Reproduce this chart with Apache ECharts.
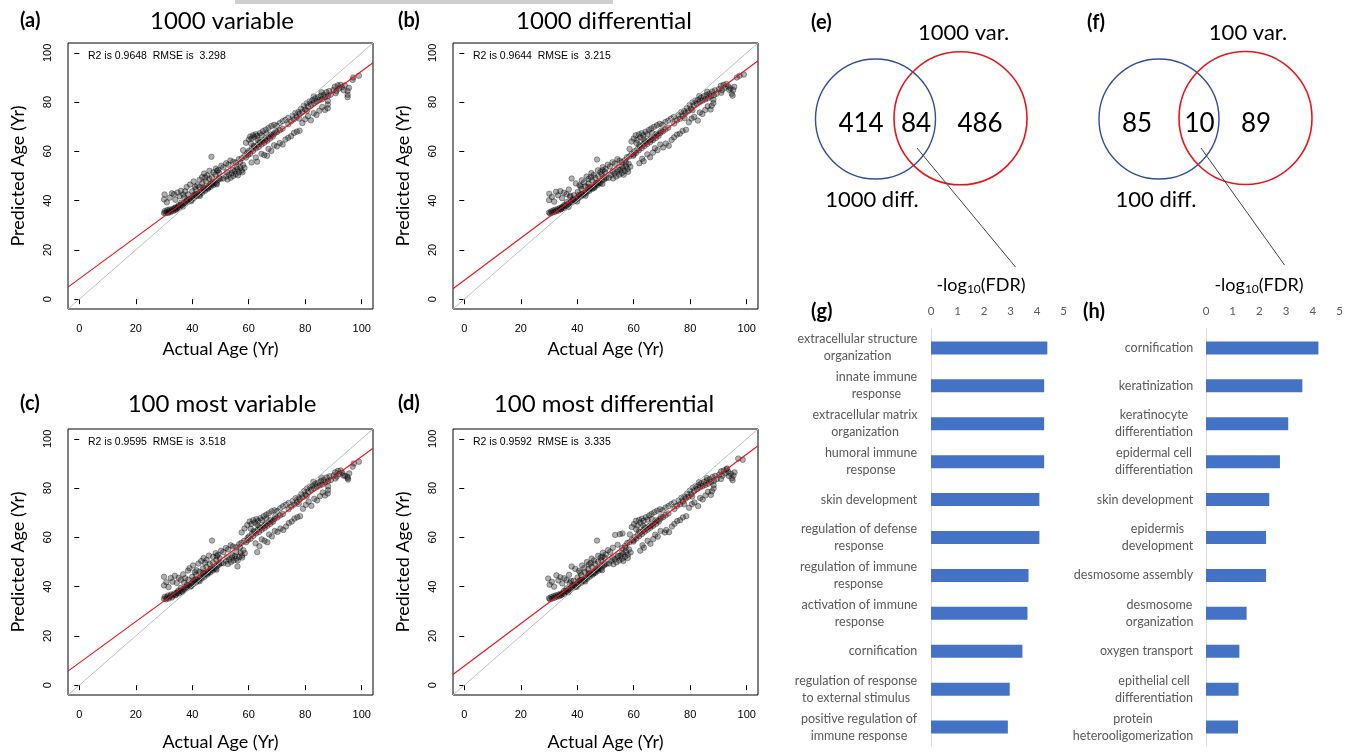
<!DOCTYPE html>
<html>
<head>
<meta charset="utf-8">
<script src="https://cdn.jsdelivr.net/npm/echarts@6/dist/echarts.min.js"></script>
<style>html,body{margin:0;padding:0;background:#fff}#c{width:1355px;height:754px}</style>
</head>
<body>
<div id="c"></div>
<script>
// ---------- DATA ----------
const panelTitles = ['1000 variable', '1000 differential', '100 most variable', '100 most differential'];
const panelTags = ['(a)', '(b)', '(c)', '(d)'];
const statTexts = ['R2 is 0.9648  RMSE is  3.298', 'R2 is 0.9644  RMSE is  3.215', 'R2 is 0.9595  RMSE is  3.518', 'R2 is 0.9592  RMSE is  3.335'];
const ageTicks = [0, 20, 40, 60, 80, 100];
const identityLine = [[-4, -4], [104, 104]];
const fitA = [[-4, 4.9], [104, 96.0]];
const fitB = [[-4, 4.2], [104, 96.8]];
const fitC = [[-4, 5.7], [104, 96.2]];
const fitD = [[-4, 4.3], [104, 97.2]];

const pointsA = [
[30,35],[30.3,35.8],[30.6,34.9],[31,35.4],[31.2,36.2],[31.5,35],[31.8,35.7],[32,36.4],[32.3,35.3],[32.6,36],[33,36.6],[33.3,35.8],[33.7,36.9],[34,37.2],[34.4,36.5],
[30,40.5],[30.2,42.5],[31,39.3],[32,41.2],[32.8,43],[33.5,42.6],[34,40.4],[34.8,43.3],[35.5,41.8],[36,44],[36.8,42.5],[37.5,43.8],[38,45.5],
[34,36.2],[34.6,37],[35,37.6],[35.5,37.2],[36,38.3],[36.5,38],[37,39],[37.5,38.7],[38,39.8],[38.5,39.5],[39,40.6],[39.5,40.2],[40,41.3],[40.5,41],[41,42],[41.5,41.8],[42,42.8],[42.5,42.4],[43,43.6],[43.5,43.2],[44,44.3],[44.5,44],[45,45.1],[45.5,44.8],[46,45.9],[46.5,45.6],[47,46.6],[47.5,46.3],[48,47.4],[48.5,47],[49,48.2],[50,48.8],
[38.5,42.5],[40,43.8],[41.2,44.6],[42.5,45.5],[43.6,47.2],[44.8,47.8],[46,48.9],[47,49.5],[48.2,50.6],[49.5,51.3],
[39.2,46.5],[40.5,47.8],[41.8,46.2],[42.6,48.5],[43.5,49.6],[44.2,51],[45.3,50.2],[46.1,52.1],[46.8,57.8],[47.5,51.5],[48.4,53],[49.2,52.4],[50.3,54.2],[51,53.5],[52,55.2],[52.8,54.6],[53.5,56.3],[54.5,55.8],
[51,49],[52,49.8],[52.5,48.6],[53,50.5],[53.6,49.3],[54,51.2],[54.5,50],[55,52],[55.4,50.8],[56,52.8],[56.5,51.5],[57,53.4],[57.5,52.2],[58,54.5],[58.5,53.3],
[55.5,55.5],[56.5,56.8],[57.5,57.2],[58.5,58.2],[59,57.5],[59.5,59.4],[60,60.2],[60.5,59],[61,61],[61.5,60.2],[62,61.8],[62.5,61.2],[63,62.6],[63.5,61.8],[64,63.5],[64.5,62.8],[65,64.2],[65.5,63.5],[66,65],[66.5,64.3],[67,65.8],[67.5,65.2],[68,66.5],[68.5,66],[69,67.2],[70,67.8],[71,68.6],[72,69.2],
[58,60.5],[59,63.5],[60,64.8],[60.5,66],[61,65.2],[61.5,66.5],[62,65.8],[62.5,67],[63,66.3],[64,67.4],[64.5,66.6],[65,68.2],[66,68.8],[67,69.5],[68,70.3],[69,70.8],[70,70.4],[71,71.5],[72,72.3],[73,72.8],[74,73.6],
[61,55.5],[62.5,57.5],[63,55.8],[64.5,59],[65.5,58.5],[66.5,58.2],[67,61],[68,60.2],[69,62.5],[70,62],[71,63.4],[72,62.8],[73,64.8],[74,65.5],[75,66.2],[76,67.5],[77,68],[78,68.4],
[74,71],[75,72.2],[75.5,74.5],[76,73],[76.5,75.6],[77,74],[77.5,76],[78,75.2],[78.5,77.3],[79,76],[79.5,78.5],[80,77],[80.5,79.5],[81,78.2],[81.5,80.3],[82,79],[82.5,80.8],[83,79.6],[83.5,81.5],[84,80.2],[84.5,82],[85,80.8],[85.5,82.6],[86,81.2],[86.5,83],[87,82],[87.5,84],[88,82.5],[88.5,84.5],[89,83],
[79,71.5],[80,73],[81,74.3],[82,72.6],[83,75.5],[84,74.8],[85,76.5],[86,78],[87,76.8],[88,77.5],[88,79],[88,80.5],
[90,85],[90.5,86.2],[91,84.5],[91.5,86.8],[92,85.5],[92.5,87],[93,86],[94,86.8],[95,83],[95,82],[95,84.5],[95.5,85.8],[96.8,89],[97,90],[99,90.7],
[35.2,38.1],[36.7,37.6],[38.2,40.4],[39.7,39.8],[41.2,42.5],[42.7,41.9],[44.2,44.9],[45.7,45.3],[47.2,47.2],[48.7,46.6],[36.1,39.2],[40.6,42.3],[43.8,45.4],[46.6,46.9],[49.5,49.1],[57,55.7],[59.8,58.6],[61.8,62.3],[63.8,63.9],[65.8,64.6],[67.8,66.9],[69.5,68.3],[60.8,63.2],[63.2,64.7],[66.3,67.3],[56.2,50.3],[54.3,52.4],[57.8,51.5],[52.3,51.6],[55.7,53.7],[37.2,41.4],[41,45.6],[44.6,49.4],[48.8,52.1],[83,82.3],[85.8,84],[80.6,76.5],[77.8,73.3],[90.8,83.6],[93.6,84.8]
];
const pointsB = [
[30,35.2],[30.4,34.8],[30.8,35.6],[31.1,35.1],[31.5,36],[31.9,35.4],[32.2,36.3],[32.6,35.7],[33,36.5],[33.4,36],[33.8,37],[34.2,36.6],[34.6,37.4],
[30,40.2],[30.1,42.8],[31,41.5],[31.8,39.6],[32.5,43.6],[33.2,42.2],[34,43.9],[34.6,41],[35.3,43.2],[36.2,42.6],[37,44.5],[38,49],[37.6,42],
[34.2,36.5],[34.8,37.3],[35.2,37],[35.8,38],[36.2,37.8],[36.8,38.8],[37.2,38.5],[37.8,39.5],[38.2,39.3],[38.8,40.3],[39.2,40],[39.8,41.1],[40.2,40.8],[40.8,41.8],[41.2,41.6],[41.8,42.6],[42.2,42.3],[42.8,43.4],[43.2,43.1],[43.8,44.2],[44.2,43.9],[44.8,45],[45.2,44.7],[45.8,45.8],[46.2,45.5],[46.8,46.6],[47.2,46.3],[47.8,47.4],[48.2,47.1],[48.8,48.2],[49.5,48.6],[50.2,49.2],
[38.8,42.2],[40.2,43.5],[41.5,44.8],[42.8,45.8],[44,47],[45.2,48.2],[46.4,49.2],[47.5,50],[48.6,50.8],[49.8,51.6],
[39.5,47],[40.8,46.2],[41.6,48.3],[42.4,47.4],[43.3,49.8],[44,48.8],[45,51.2],[45.8,50.4],[47,56.7],[47.3,52.3],[48.2,51.6],[49,53.6],[50,52.8],[50.8,54.6],[51.6,53.9],[52.5,55.6],[53.3,55],[54.2,56.8],[55,56.2],
[51.2,49.3],[52,50.4],[52.7,49],[53.2,51],[53.8,49.8],[54.2,51.8],[54.8,50.5],[55.2,52.5],[55.8,51.2],[56.2,53.2],[56.8,52],[57.2,54],[57.8,52.8],[58.2,55],[58.8,53.8],
[55.8,55.6],[56.8,56.4],[57.6,57.6],[58.4,57.9],[59.2,58.9],[59.8,58.2],[60.3,60],[60.8,59.4],[61.3,61],[61.8,60.4],[62.3,62],[62.8,61.3],[63.3,62.8],[63.8,62.2],[64.3,63.6],[64.8,63],[65.3,64.5],[65.8,63.8],[66.3,65.2],[66.8,64.6],[67.3,66.1],[67.8,65.4],[68.3,66.8],[68.8,66.3],[69.4,67.5],[70.3,68.1],[71.2,68.9],[72.2,69.6],
[58.5,61],[59.2,64],[60,65.2],[60.7,66.5],[61.2,64.6],[61.8,66.9],[62.3,65.7],[62.8,67.4],[63.4,66.5],[64.2,68],[64.8,67],[65.4,68.7],[66.2,69.3],[67.2,70],[68.2,70.6],[69.2,71.2],[70.2,70.8],[71.2,71.9],[72.2,72.5],[73.2,73.3],[74.2,74],
[62,55.2],[63,57],[63.5,56],[64.8,58.8],[65.8,57.6],[66.8,59.5],[67.5,61.3],[68.4,60.5],[69.4,62.8],[70.4,61.6],[71.4,63.2],[72.4,62.3],[73.4,64.6],[74.3,65.7],[75.3,66.8],[76.3,67.2],[77.3,68.3],[78.5,68.8],
[74.3,71.3],[75.2,72.6],[75.8,74.8],[76.3,73.2],[76.8,75.9],[77.3,74.4],[77.8,76.4],[78.3,75.5],[78.8,77.6],[79.3,76.3],[79.8,78.8],[80.3,77.3],[80.8,79.9],[81.3,78.6],[81.8,80.6],[82.3,79.3],[82.8,81.1],[83.3,80],[83.8,81.8],[84.3,80.6],[84.8,82.4],[85.3,81.1],[85.8,82.9],[86.3,81.6],[86.8,83.4],[87.3,82.3],[87.8,84.3],[88.3,82.8],[88.8,84.8],[89.3,83.4],
[79.5,71.8],[80.5,73.3],[81.4,74],[82.7,72.5],[83.4,75.8],[84.3,75.2],[85.3,76.8],[86.2,78.3],[87.2,77],[87.6,78.5],[88.2,79.6],[88.2,81],
[90.2,85.3],[90.8,86.6],[91.3,84.8],[91.8,87],[92.3,85.8],[92.8,87.4],[93.4,86.4],[94.3,85.6],[94.7,83.4],[95,82.6],[95.2,84.9],[95.6,86.2],[96.5,90],[97.5,90.7],[99,91.2],
[35.4,38.2],[36.9,37.4],[38.4,40.5],[39.9,39.6],[41.4,42.6],[42.9,42],[44.4,45],[45.9,45.1],[47.4,47.4],[48.9,46.8],[36.3,39.4],[40.7,42.4],[43.9,45.6],[46.7,47.1],[49.6,49.4],[57.2,55.5],[60,58.7],[62,62.5],[64,64.1],[66,64.8],[68,67.1],[69.7,68.4],[61,63.4],[63.4,64.9],[66.5,67.5],[56.4,50.5],[54.5,52.6],[58,51.7],[52.5,51.8],[55.9,53.9],[37.4,41.6],[41.2,45.8],[44.8,49.6],[49,52.3],[83.2,82.5],[86,84.2],[80.8,76.7],[78,73.5],[91,83.8],[93.8,85]
];
const pointsC = [
[30,35],[30.3,35.9],[30.7,34.8],[31,35.6],[31.4,36.4],[31.7,35.2],[32.1,36],[32.5,36.8],[32.8,35.6],[33.2,36.4],[33.6,37.2],[34,36.5],[34.5,37.6],
[30,40.5],[30,44],[30.8,41.8],[31.6,39.8],[32.4,43.5],[33,42],[33.8,44.4],[34.5,41.5],[35.2,43.6],[36,42.8],[36.8,45],[37.5,43.4],[38.5,46.5],
[34.2,36.8],[34.8,37.5],[35.3,37.2],[35.8,38.3],[36.3,38],[36.8,39],[37.3,38.7],[37.8,39.8],[38.3,39.5],[38.8,40.6],[39.3,40.2],[39.8,41.4],[40.3,41],[40.8,42.1],[41.3,41.7],[41.8,42.8],[42.3,42.5],[42.8,43.6],[43.3,43.3],[43.8,44.4],[44.3,44],[44.8,45.2],[45.3,44.9],[45.8,46],[46.3,45.7],[46.8,46.8],[47.3,46.5],[47.8,47.6],[48.3,47.3],[48.8,48.4],[49.5,48.9],[50.3,49.6],
[38.6,42.8],[40,44],[41.3,44.9],[42.6,46],[43.8,47.4],[45,48],[46.2,49.1],[47.3,49.8],[48.5,50.9],[49.7,51.6],
[39,47.5],[40.3,48.6],[41.5,46.6],[42.2,49.4],[43.2,50.4],[44,51.6],[45.1,50.8],[45.9,52.6],[47,58.7],[47.4,52.1],[48.3,53.6],[49.1,52.9],[50.2,54.6],[51,54],[51.9,55.7],[52.7,55.1],[53.6,56.8],[54.4,56.3],
[51,49.5],[52,50.5],[52.6,49.2],[53.1,51],[53.7,50],[54.1,51.8],[54.6,50.6],[55.1,52.4],[55.6,51.3],[56,48.2],[56.6,52],[57.1,53.8],[57.6,52.6],[58.1,54.8],[58.6,53.6],
[55.6,56],[56.6,57.2],[57.4,57.8],[58.4,58.6],[59.1,58],[59.6,59.8],[60.1,60.4],[60.6,59.4],[61.1,61.4],[61.6,60.6],[62.1,62.2],[62.6,61.6],[63.1,63],[63.6,62.2],[64.1,63.8],[64.6,63.1],[65.1,64.5],[65.6,63.8],[66.1,65.3],[66.6,64.7],[67.1,66.1],[67.6,65.5],[68.1,66.8],[68.6,66.3],[69.1,67.5],[70.1,68.1],[71.1,68.9],[72.1,69.5],
[57.5,62],[58.5,63.6],[59.5,65],[60.3,66.4],[61,65.5],[61.6,67],[62.2,66],[62.7,67.4],[63.3,66.6],[64.1,67.8],[64.7,67],[65.3,68.6],[66.2,69.2],[67.1,69.8],[68.1,70.6],[69.1,71],[70.1,70.7],[71.1,71.8],[72.1,72.6],[73.1,73.2],[74.1,74],
[63,54],[62.4,57.6],[63.8,56.4],[64.6,59.2],[65.6,58.6],[66.6,58],[67.2,61.2],[68.2,60.4],[69.2,62.6],[70.2,62.2],[71.2,63.6],[72.2,63],[73.2,64.4],[74.2,65.8],[75.2,66.4],[76.2,67.6],[77.2,68.2],[78.2,68.6],
[74.1,71.4],[75.1,72.5],[75.6,74.8],[76.1,73.3],[76.6,75.9],[77.1,74.3],[77.6,76.3],[78.1,75.5],[78.6,77.6],[79.1,76.3],[79.6,78.8],[80.1,77.3],[80.6,79.8],[81.1,78.5],[81.6,80.6],[82.1,79.3],[82.6,81.1],[83.1,79.9],[83.6,81.8],[84.1,80.5],[84.6,82.3],[85.1,81.1],[85.6,82.9],[86.1,81.5],[86.6,83.3],[87.1,82.3],[87.6,84.3],[88.1,82.8],[88.6,84.8],[89.1,83.3],
[79.2,71.6],[80.2,73.2],[81.2,74.5],[82.2,72.8],[83.2,75.7],[84.2,75],[85.2,76.7],[86.2,78.2],[87,77],[88,77.8],[88.1,79.2],[88.1,80.7],
[90.1,85.2],[90.6,86.4],[91.1,84.7],[91.6,87],[92.1,85.7],[92.6,87.2],[93.1,86.2],[94.1,85],[95,84],[95,84.6],[95.2,83.5],[95.6,86],[96.8,88.7],[97.2,90],[99,90.7],
[35.1,38.4],[36.6,37.9],[38.1,40.7],[39.6,40.1],[41.1,42.8],[42.6,42.2],[44.1,45.2],[45.6,45.6],[47.1,47.5],[48.6,46.9],[36,39.5],[40.5,42.6],[43.7,45.7],[46.5,47.2],[49.4,49.4],[56.9,56],[59.7,58.9],[61.7,62.6],[63.7,64.2],[65.7,64.9],[67.7,67.2],[69.4,68.6],[60.7,63.5],[63.1,65],[66.2,67.6],[56.1,50.6],[54.2,52.7],[57.7,51.8],[52.2,51.9],[55.6,54],[37.1,41.7],[40.9,45.9],[44.5,49.7],[48.7,52.4],[82.9,82.6],[85.7,84.3],[80.5,76.8],[77.7,73.6],[90.7,83.9],[93.5,85.1]
];
const pointsD = [
[30,35.3],[30.4,34.9],[30.8,35.8],[31.2,35.2],[31.6,36.1],[32,35.5],[32.4,36.4],[32.8,35.9],[33.2,36.7],[33.6,36.1],[34,37.1],[34.4,36.7],
[29.7,43.3],[30.2,40.8],[31,42],[31.8,40],[32.6,44.6],[33.3,42.5],[34,43.8],[34.7,41.3],[35.4,43.4],[36.2,42.7],[37.1,44.8],[38,48.2],[37.8,42.3],
[34.3,36.6],[34.9,37.4],[35.4,37.1],[35.9,38.1],[36.4,37.9],[36.9,38.9],[37.4,38.6],[37.9,39.7],[38.4,39.4],[38.9,40.5],[39.4,40.1],[39.9,41.3],[40.4,40.9],[40.9,42],[41.4,41.6],[41.9,42.7],[42.4,42.4],[42.9,43.5],[43.4,43.2],[43.9,44.3],[44.4,44],[44.9,45.1],[45.4,44.8],[45.9,45.9],[46.4,45.6],[46.9,46.7],[47.4,46.4],[47.9,47.5],[48.4,47.2],[48.9,48.3],[49.6,48.7],[50.4,49.3],
[38.7,42.4],[40.1,43.7],[41.4,44.7],[42.7,45.9],[43.9,47.1],[45.1,48.1],[46.3,49.3],[47.4,50.1],[48.5,50.7],[49.7,51.7],
[39.3,47.2],[40.6,46.4],[41.7,48.6],[42.5,47.6],[43.4,50],[44.1,49],[45.1,51.4],[45.9,50.6],[47,58.7],[47.4,52.5],[48.3,51.8],[49.1,53.8],[50.1,53],[50.9,54.8],[51.7,54.1],[52.6,55.8],[53.4,61],[54.3,57],[55.1,61.3],[56,61.6],
[51.3,49.4],[52.1,50.5],[52.8,49.1],[53.3,51.1],[53.9,49.9],[54.3,51.9],[54.9,50.6],[55.3,52.6],[55.9,51.3],[56.3,53.3],[56.9,52.1],[57.3,54.1],[57.9,52.9],[58.3,55.1],[58.9,53.9],
[55.9,55.7],[56.9,56.5],[57.7,57.7],[58.5,58],[59.3,59],[59.9,58.3],[60.4,60.1],[60.9,59.5],[61.4,61.1],[61.9,60.5],[62.4,62.1],[62.9,61.4],[63.4,62.9],[63.9,62.3],[64.4,63.7],[64.9,63.1],[65.4,64.6],[65.9,63.9],[66.4,65.3],[66.9,64.7],[67.4,66.2],[67.9,65.5],[68.4,66.9],[68.9,66.4],[69.5,67.6],[70.4,68.2],[71.3,69],[72.3,69.7],
[58.6,61.2],[59.3,64.2],[60.1,65.4],[60.8,66.7],[61.3,64.8],[61.9,67.1],[62.4,65.9],[62.9,67.6],[63.5,66.7],[64.3,68.2],[64.9,67.2],[65.5,68.9],[66.3,69.5],[67.3,70.2],[68.3,70.8],[69.3,71.4],[70.3,71],[71.3,72.1],[72.3,72.7],[73.3,73.5],[74.3,74.2],
[62.3,54.6],[63.1,56.8],[63.6,55.8],[64.9,58.6],[65.9,57.4],[66.9,59.3],[67.6,61.1],[68.5,60.3],[69.5,62.6],[71,62],[71.5,63],[72.5,62.1],[73.5,64.4],[74.4,65.5],[75.4,66.6],[76.4,67],[77.4,68.1],[78.6,68.6],
[74.4,71.5],[75.3,72.8],[75.9,75],[76.4,73.4],[76.9,76.1],[77.4,74.6],[77.9,76.6],[78.4,75.7],[78.9,77.8],[79.4,76.5],[79.9,79],[80.4,77.5],[80.9,80.1],[81.4,78.8],[81.9,80.8],[82.4,79.5],[82.9,81.3],[83.4,80.2],[83.9,82],[84.4,80.8],[84.9,82.6],[85.4,81.3],[85.9,83.1],[86.4,81.8],[86.9,83.6],[87.4,82.5],[87.9,84.5],[88.4,83],[88.9,85],[89.4,83.6],
[79.6,72],[80.6,73.5],[81.5,74.2],[82.8,72.7],[83.5,76],[84.4,75.4],[85.4,77],[86.3,78.5],[87.3,77.2],[87.7,78.7],[88.3,79.8],[88.3,81.2],
[90.3,85.5],[90.9,86.8],[91.4,85],[91.9,87.2],[92.4,86],[92.9,87.6],[93.5,86.6],[94.4,85.8],[94.7,84],[95,83.2],[95.3,85.1],[95.7,86.4],[97,92],[98.6,91.5],[93,88],
[35.3,38.3],[36.8,37.7],[38.3,40.6],[39.8,39.9],[41.3,42.7],[42.8,42.1],[44.3,45.1],[45.8,45.4],[47.3,47.3],[48.8,46.7],[36.2,39.3],[40.8,42.5],[44,45.5],[46.8,47],[49.7,49.2],[57.1,55.8],[59.9,58.8],[61.9,62.4],[63.9,64],[65.9,64.7],[67.9,67],[69.6,68.5],[60.9,63.3],[63.3,64.8],[66.4,67.4],[56.3,50.4],[54.4,52.5],[57.9,51.6],[52.4,51.7],[55.8,53.8],[37.3,41.5],[41.1,45.7],[44.7,49.5],[48.9,52.2],[83.1,82.4],[85.9,84.1],[80.7,76.6],[77.9,73.4],[90.9,83.7],[93.7,84.9]
];

const vennE = [414, 84, 486];
const vennELabels = ['1000 diff.', '1000 var.'];
const vennF = [85, 10, 89];
const vennFLabels = ['100 diff.', '100 var.'];

const gCats = ['extracellular structure\norganization','innate immune\nresponse','extracellular matrix\norganization','humoral immune\nresponse','skin development','regulation of defense\nresponse','regulation of immune\nresponse','activation of immune\nresponse','cornification','regulation of response\nto external stimulus','positive regulation of\nimmune response'];
const gVals = [4.39, 4.27, 4.27, 4.27, 4.09, 4.09, 3.68, 3.64, 3.45, 2.97, 2.90];
const hCats = ['cornification','keratinization','keratinocyte\ndifferentiation','epidermal cell\ndifferentiation','skin development','epidermis\ndevelopment','desmosome assembly','desmosome\norganization','oxygen transport','epithelial cell\ndifferentiation','protein\nheterooligomerization'];
const hVals = [4.21, 3.61, 3.08, 2.77, 2.37, 2.25, 2.25, 1.52, 1.25, 1.22, 1.20];

// ---------- LAYOUT ----------
const scatterSets = [pointsA, pointsB, pointsC, pointsD];
const fitSets = [fitA, fitB, fitC, fitD];
const boxes = [
  {left: 68, top: 43, xNameGap: 31, titleDy: 22},
  {left: 453, top: 43, xNameGap: 31, titleDy: 22},
  {left: 68, top: 429, xNameGap: 38, titleDy: 25},
  {left: 453, top: 429, xNameGap: 38, titleDy: 25}
];
const BW = 305, BH = 266;
const CAL = 'Lato, "Open Sans", sans-serif';
const HEL = '"Liberation Sans", Arial, sans-serif';

const grids = [], xAxes = [], yAxes = [], series = [], graphics = [];

boxes.forEach((b, i) => {
  grids.push({left: b.left, top: b.top, width: BW, height: BH, show: true, borderColor: '#000', borderWidth: 1, backgroundColor: 'rgba(0,0,0,0)', containLabel: false, outerBoundsMode: 'none'});
  xAxes.push({
    gridIndex: i, type: 'value', min: -4, max: 104,
    axisLine: {show: false}, splitLine: {show: false},
    axisTick: {show: true, inside: false, length: 5, customValues: ageTicks, lineStyle: {color: '#000', width: 1}},
    axisLabel: {customValues: ageTicks, margin: 14, fontSize: 11, fontFamily: HEL, color: '#000'},
    name: 'Actual Age (Yr)', nameLocation: 'middle', nameGap: b.xNameGap,
    nameTextStyle: {fontFamily: CAL, fontSize: 18, color: '#000'}
  });
  yAxes.push({
    gridIndex: i, type: 'value', min: -4, max: 104,
    axisLine: {show: false}, splitLine: {show: false},
    axisTick: {show: true, inside: false, length: 5, customValues: ageTicks, lineStyle: {color: '#000', width: 1}},
    axisLabel: {customValues: ageTicks, margin: 15, fontSize: 11, fontFamily: HEL, color: '#000', rotate: 90},
    name: 'Predicted Age (Yr)', nameLocation: 'middle', nameGap: 41,
    nameTextStyle: {fontFamily: CAL, fontSize: 18, color: '#000'}
  });
  series.push({
    type: 'scatter', xAxisIndex: i, yAxisIndex: i, data: scatterSets[i],
    symbolSize: 5.5, silent: true,
    itemStyle: {color: 'rgba(20,20,20,0.42)', borderColor: 'rgba(0,0,0,0.6)', borderWidth: 0.7}, z: 2
  });
  series.push({
    type: 'line', xAxisIndex: i, yAxisIndex: i, data: identityLine, symbol: 'none', silent: true,
    lineStyle: {color: '#BEBEBE', width: 1}, z: 3
  });
  series.push({
    type: 'line', xAxisIndex: i, yAxisIndex: i, data: fitSets[i], symbol: 'none', silent: true,
    lineStyle: {color: '#E8141B', width: 1.1}, z: 4
  });
  const cx = b.left + (i % 2 === 0 ? 154 : 151);
  graphics.push({type: 'text', x: cx, y: b.top - b.titleDy, style: {text: panelTitles[i], font: '24px ' + CAL, fill: '#000', align: 'center', verticalAlign: 'middle'}});
  graphics.push({type: 'text', x: b.left - 48 + (i % 2 === 0 ? 0 : -7), y: b.top - b.titleDy, style: {text: panelTags[i], font: 'bold 20px ' + CAL, fill: '#000', align: 'left', verticalAlign: 'middle'}});
  graphics.push({type: 'text', x: b.left + 20, y: b.top + 13, style: {text: statTexts[i], font: '10.5px ' + HEL, fill: '#000', align: 'left', verticalAlign: 'middle'}});
});

// bar label rich styles: lines centred within each label block
const measureCtx = document.createElement('canvas').getContext('2d');
measureCtx.font = '12.5px Lato';
function makeRich(cats, prefix) {
  const rich = {};
  cats.forEach((c, i) => {
    const w = Math.max(...c.split('\n').map(l => measureCtx.measureText(l).width));
    rich[prefix + i] = {width: Math.ceil(w) + 1, align: 'center', fontSize: 12.5, fontFamily: CAL, color: '#595959', lineHeight: 17};
  });
  return rich;
}
function makeFormatter(cats, prefix) {
  return function (v) {
    const i = cats.indexOf(v);
    return v.split('\n').map(l => '{' + prefix + i + '|' + l + '}').join('\n');
  };
}

const barPanels = [
  {cats: gCats, vals: gVals, left: 931, width: 132.5, margin: 13, prefix: 'g'},
  {cats: hCats, vals: hVals, left: 1206, width: 133.5, margin: 12, prefix: 'h'}
];
barPanels.forEach((p, k) => {
  const gi = 4 + k;
  grids.push({left: p.left, top: 329, width: p.width, height: 417, containLabel: false, outerBoundsMode: 'none'});
  xAxes.push({
    gridIndex: gi, type: 'value', position: 'top', min: 0, max: 5, interval: 1,
    axisLine: {show: false}, axisTick: {show: false}, splitLine: {show: false},
    axisLabel: {margin: 12, fontSize: 11.5, fontFamily: CAL, color: '#595959'}
  });
  yAxes.push({
    gridIndex: gi, type: 'category', data: p.cats, inverse: true,
    axisLine: {show: true, lineStyle: {color: '#D9D9D9', width: 1}}, axisTick: {show: false},
    axisLabel: {margin: p.margin, interval: 0, formatter: makeFormatter(p.cats, p.prefix), rich: makeRich(p.cats, p.prefix), align: 'right'}
  });
  series.push({
    type: 'bar', xAxisIndex: gi, yAxisIndex: gi, data: p.vals, barWidth: 13, silent: true,
    itemStyle: {color: '#4472C4'}
  });
});

// Venn diagrams
const vennPanels = [
  {vals: vennE, labels: vennELabels, tag: '(e)', tagX: 811, blue: [875.5, 119, 60], red: [960.5, 118.3, 66.5], numX: [861, 916, 980], diffX: 872, varX: 963.6, line: [917, 148, 1015.5, 267], fdrX: 981, subTag: '(g)', subTagX: 811},
  {vals: vennF, labels: vennFLabels, tag: '(f)', tagX: 1087, blue: [1159, 119, 60], red: [1245.5, 118, 66.5], numX: [1137, 1199.5, 1256], diffX: 1156, varX: 1248, line: [1201, 148, 1284.5, 265], fdrX: 1259, subTag: '(h)', subTagX: 1083}
];
vennPanels.forEach(v => {
  graphics.push({type: 'circle', shape: {cx: v.blue[0], cy: v.blue[1], r: v.blue[2]}, style: {fill: 'none', stroke: '#2F4F96', lineWidth: 1.4}});
  graphics.push({type: 'circle', shape: {cx: v.red[0], cy: v.red[1], r: v.red[2]}, style: {fill: 'none', stroke: '#E8141B', lineWidth: 1.6}});
  v.vals.forEach((n, j) => {
    graphics.push({type: 'text', x: v.numX[j], y: 124, style: {text: String(n), font: '26px ' + CAL, fill: '#000', align: 'center', verticalAlign: 'middle'}});
  });
  graphics.push({type: 'text', x: v.diffX, y: 200, style: {text: v.labels[0], font: '22px ' + CAL, fill: '#000', align: 'center', verticalAlign: 'middle'}});
  graphics.push({type: 'text', x: v.varX, y: 33, style: {text: v.labels[1], font: '22px ' + CAL, fill: '#000', align: 'center', verticalAlign: 'middle'}});
  graphics.push({type: 'text', x: v.tagX, y: 23, style: {text: v.tag, font: 'bold 20px ' + CAL, fill: '#000', align: 'left', verticalAlign: 'middle'}});
  graphics.push({type: 'text', x: v.subTagX, y: 312, style: {text: v.subTag, font: 'bold 20px ' + CAL, fill: '#000', align: 'left', verticalAlign: 'middle'}});
  graphics.push({type: 'line', shape: {x1: v.line[0], y1: v.line[1], x2: v.line[2], y2: v.line[3]}, style: {stroke: '#444', lineWidth: 1}});
  graphics.push({type: 'text', x: v.fdrX, y: 285, style: {
    text: '{a|-log}{s|10}{a|(FDR)}', align: 'center', verticalAlign: 'middle',
    rich: {a: {fontSize: 18, fontFamily: CAL, fill: '#000', color: '#000'}, s: {fontSize: 12, fontFamily: CAL, color: '#000', fill: '#000', verticalAlign: 'bottom', padding: [8, 0, 0, 0]}}
  }});
});

// top grey strip
graphics.push({type: 'rect', shape: {x: 235, y: 0, width: 378, height: 4}, style: {fill: '#CFCFCF'}});

const chart = echarts.init(document.getElementById('c'), null, {renderer: 'canvas'});
chart.setOption({
  backgroundColor: '#fff',
  animation: false,
  grid: grids,
  xAxis: xAxes,
  yAxis: yAxes,
  series: series,
  graphic: graphics
});
</script>
</body>
</html>
